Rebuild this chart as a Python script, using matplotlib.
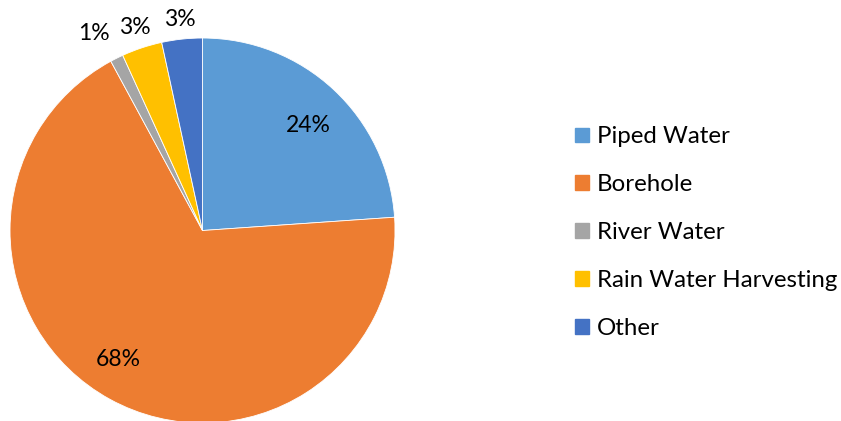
import matplotlib.pyplot as plt
import numpy as np

# Household water sources (percent of respondents)
sources = ["Piped Water", "Borehole", "River Water", "Rain Water Harvesting", "Other"]
shares = [23.9, 68.2, 1.1, 3.4, 3.4]
colors = ["#5B9BD5", "#ED7D31", "#A5A5A5", "#FFC000", "#4472C4"]

plt.rcParams['font.family'] = ['Lato', 'DejaVu Sans']

fig = plt.figure(figsize=(8.41, 4.21), dpi=100)
ax = fig.add_axes([0.0119, -0.0048, 0.4578, 0.9145])

wedges, _ = ax.pie(shares, colors=colors, startangle=90, counterclock=False,
                   radius=1.0, wedgeprops=dict(edgecolor='white', linewidth=0.6))
ax.set_xlim(-1, 1)
ax.set_ylim(-1, 1)
ax.set_aspect('equal')

# big slices get labels inside, the thin ones sit outside the rim
label_r = [0.775, 0.80, 1.17, 1.11, 1.10]
label_turn = [-2.0, -4.5, 2.4, 0.0, 0.0]   # degrees, keeps labels from crowding
for w, val, r, t in zip(wedges, shares, label_r, label_turn):
    mid = np.deg2rad((w.theta1 + w.theta2) / 2 + t)
    ax.text(r * np.cos(mid), r * np.sin(mid), f"{val:.0f}%",
            ha='center', va='center', fontsize=16.5, color='black')

handles = [plt.Rectangle((0, 0), 1, 1, color=c) for c in colors]
fig.legend(handles, sources, loc='center left', bbox_to_anchor=(0.672, 0.447),
           frameon=False, fontsize=17.3, handlelength=0.58, handleheight=0.58,
           handletextpad=0.33, labelspacing=1.12, borderaxespad=0)

fig.savefig("out.png", dpi=100)
